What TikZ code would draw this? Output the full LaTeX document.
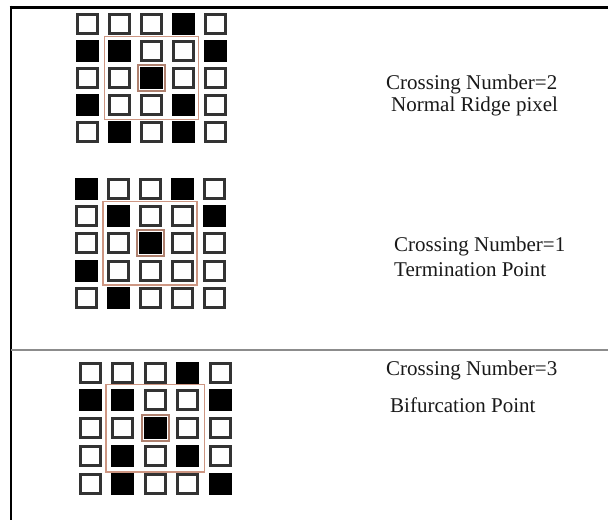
\documentclass[tikz,border=0pt]{standalone}
\usepackage{fontspec}
\setmainfont{Liberation Serif}
\usetikzlibrary{fit}
\definecolor{ringcol}{RGB}{205,150,130}

\begin{document}
\begin{tikzpicture}[
    x=1pt, y=-1pt,
    font=\fontsize{21}{24}\selectfont,
    cell0/.style={rectangle, draw=black!80, line width=3pt, fill=white, minimum width=20pt, minimum height=19pt, inner sep=0pt},
    cell1/.style={cell0, draw=black, fill=black},
    ring/.style={rectangle, draw=ringcol, line width=1.5pt, inner sep=3.5pt},
    core/.style={rectangle, draw=ringcol!85!black, line width=2pt, inner sep=2pt},
    txt/.style={anchor=west, inner sep=0pt, text=black!90}
]
    \useasboundingbox (0,0) rectangle (608,520);
    \draw[line width=3pt] (9.5,7) -- (608,7);
    \draw[line width=2.5pt] (11,5.5) -- (11,520);
    \draw[black!45, line width=2pt] (11,350) -- (608,350);

    \foreach \r/\row in {1/{0,0,0,1,0}, 2/{1,1,0,0,1}, 3/{0,0,1,0,0}, 4/{1,0,0,1,0}, 5/{0,1,0,1,0}}
        \foreach \v [count=\col] in \row
            \node[cell\v] (a-\r-\col) at ({87.5+32*(\col-1)}, {24+27*(\r-1)}) {};
    \node[ring, fit=(a-2-2)(a-4-4)] (a-ring) {};
    \node[core, fit=(a-3-3)] (a-core) {};
    \node[txt] (a-cn) at (386,84) {Crossing Number=2};
    \node[txt] (a-type) at (391,106) {Normal Ridge pixel};

    \foreach \r/\row in {1/{1,0,0,1,0}, 2/{0,1,0,0,1}, 3/{0,0,1,0,0}, 4/{1,0,0,0,0}, 5/{0,1,0,0,0}}
        \foreach \v [count=\col] in \row
            \node[cell\v] (b-\r-\col) at ({86+32*(\col-1)}, {188.5+27.4*(\r-1)}) {};
    \node[ring, fit=(b-2-2)(b-4-4)] (b-ring) {};
    \node[core, fit=(b-3-3)] (b-core) {};
    \node[txt] (b-cn) at (394,246) {Crossing Number=1};
    \node[txt] (b-type) at (394,270) {Termination Point};

    \foreach \r/\row in {1/{0,0,0,1,0}, 2/{1,1,0,0,1}, 3/{0,0,1,0,0}, 4/{0,1,0,1,0}, 5/{0,1,0,0,1}}
        \foreach \v [count=\col] in \row
            \node[cell\v] (c-\r-\col) at ({90+32.6*(\col-1)}, {372.5+27.9*(\r-1)}) {};
    \node[ring, inner sep=5pt, fit=(c-2-2)(c-4-4)] (c-ring) {};
    \node[core, fit=(c-3-3)] (c-core) {};
    \node[txt] (c-cn) at (386,370) {Crossing Number=3};
    \node[txt] (c-type) at (390,405) {Bifurcation Point};
\end{tikzpicture}
\end{document}
